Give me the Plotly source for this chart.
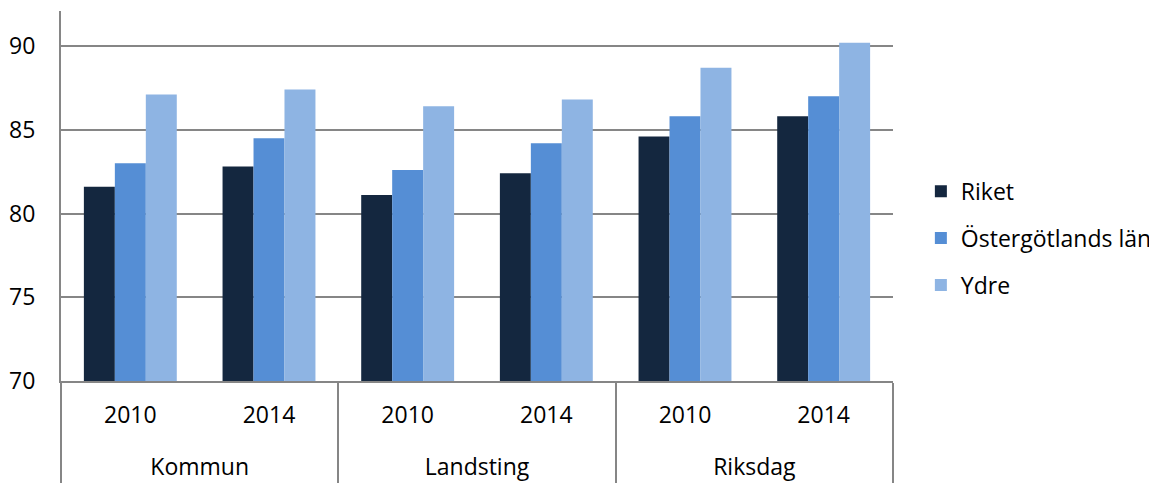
import plotly.graph_objects as go

groups = ["Kommun", "Kommun", "Landsting", "Landsting", "Riksdag", "Riksdag"]
years = ["2010", "2014", "2010", "2014", "2010", "2014"]

riket = [81.6, 82.8, 81.1, 82.4, 84.6, 85.8]
ostergotland = [83.0, 84.5, 82.6, 84.2, 85.8, 87.0]
ydre = [87.1, 87.4, 86.4, 86.8, 88.7, 90.2]

series = [
    ("Riket", riket, "#14273F"),
    ("Östergötlands län", ostergotland, "#558ED5"),
    ("Ydre", ydre, "#8EB4E3"),
]

# extra empty line under the year labels pushes the group row further down
year_labels = [y + "<br> " for y in years]

fig = go.Figure()
for name, vals, col in series:
    fig.add_trace(go.Bar(x=[groups, year_labels], y=vals, name=name, marker_color=col,
                         marker_line_width=0, legendgroup=name))

# page body has an 8px margin, so the margins are shifted to compensate
fig.update_layout(
    width=1157, height=484, template="simple_white",
    margin=dict(l=53, r=272, t=3, b=111),
    barmode="group", bargap=0.33, bargroupgap=0,
    font=dict(family="Open Sans", size=23, color="#000000"),
    legend=dict(xref="container", x=0.789, y=0.386, xanchor="left", yanchor="middle",
                traceorder="grouped", tracegroupgap=14, font=dict(size=23)),
    showlegend=True,
    plot_bgcolor="white", paper_bgcolor="white",
)
fig.update_yaxes(range=[70, 92.09], tickvals=[70, 75, 80, 85, 90], ticks="",
                 showgrid=True, gridcolor="#868686", gridwidth=2, automargin=False,
                 showline=True, linecolor="#868686", linewidth=2, zeroline=False,
                 ticklabelstandoff=19)
fig.update_xaxes(ticks="", showline=True, linecolor="#868686", linewidth=2,
                 showdividers=True, dividercolor="#868686", dividerwidth=2,
                 automargin=False, ticklabelstandoff=12)

fig.write_html("out.html")
